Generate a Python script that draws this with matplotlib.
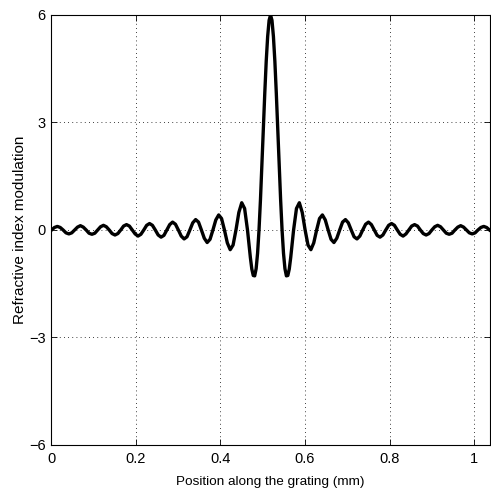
import numpy as np
from matplotlib import pyplot as plt
from matplotlib.ticker import FormatStrFormatter

plt.rcParams['font.family'] = ['Liberation Sans', 'DejaVu Sans']

center = 0.5188  # position of main peak [mm]
step = 0.00681   # sampling interval [mm]

# sample index (in steps from the centre) and read value
left_idx = list(range(-76, -8))
left_val = [0, 0.07, 0.10, 0.07, 0, -0.08, -0.11, -0.08,
            0, 0.08, 0.12, 0.08, 0, -0.09, -0.12, -0.09,
            0, 0.09, 0.13, 0.09, 0, -0.10, -0.14, -0.10,
            0, 0.11, 0.15, 0.11, 0, -0.11, -0.17, -0.12,
            0, 0.13, 0.18, 0.13, 0, -0.14, -0.20, -0.15,
            0, 0.15, 0.22, 0.16, 0, -0.17, -0.25, -0.19,
            0, 0.20, 0.29, 0.22, 0, -0.23, -0.35, -0.26,
            0, 0.28, 0.42, 0.32, 0, -0.36, -0.55, -0.42,
            0, 0.49, 0.76, 0.60]

mid_idx = list(np.arange(-8, 8.5, 0.5))
mid_val = [0, -0.39, -0.77, -1.09, -1.27, -1.28, -1.08, -0.65,
           0, 0.84, 1.80, 2.82, 3.82, 4.71, 5.40, 5.85,
           6.00,
           5.85, 5.40, 4.71, 3.82, 2.82, 1.80, 0.84, 0,
           -0.65, -1.08, -1.28, -1.27, -1.09, -0.77, -0.39, 0]

right_idx = list(range(9, 77))
right_val = [0.60, 0.76, 0.49, 0, -0.42, -0.55, -0.36, 0,
             0.32, 0.42, 0.28, 0, -0.26, -0.35, -0.23, 0,
             0.22, 0.29, 0.20, 0, -0.19, -0.25, -0.17, 0,
             0.16, 0.22, 0.15, 0, -0.15, -0.20, -0.14, 0,
             0.13, 0.18, 0.13, 0, -0.12, -0.17, -0.11, 0,
             0.11, 0.15, 0.11, 0, -0.10, -0.14, -0.10, 0,
             0.09, 0.13, 0.09, 0, -0.09, -0.12, -0.09, 0,
             0.08, 0.12, 0.08, 0, -0.08, -0.11, -0.08, 0,
             0.07, 0.10, 0.07, 0]

x_ticks = [0, 0.2, 0.4, 0.6, 0.8, 1.0]
y_ticks = [-6, -3, 0, 3, 6]

idx = np.array(left_idx + mid_idx + right_idx, dtype=float)
vals = np.array(left_val + mid_val + right_val)
pos = center + idx * step

fig = plt.figure(figsize=(4.91, 4.93), dpi=100)
ax = fig.add_axes([0.104, 0.0974, 0.894, 0.8722])

ax.plot(pos, vals, color='black', linewidth=2.4)

ax.set_xlim(0, 1.0376)
ax.set_ylim(-6, 6)
ax.set_xticks(x_ticks)
ax.set_yticks(y_ticks)
ax.xaxis.set_major_formatter(FormatStrFormatter('%g'))
ax.grid(True, color='black', linestyle=(0, (1, 4)), linewidth=0.6)
ax.tick_params(direction='in', length=4, width=0.6, top=True, right=True,
               labelsize=10.5)
ax.tick_params(axis='x', pad=5)
ax.tick_params(axis='y', pad=4)
for s in ax.spines.values():
    s.set_linewidth(0.8)

ax.set_xlabel("Position along the grating (mm)", fontsize=9.7, labelpad=7)
ax.set_ylabel("Refractive index modulation", fontsize=11, labelpad=1)

fig.savefig("out.png", dpi=100)
